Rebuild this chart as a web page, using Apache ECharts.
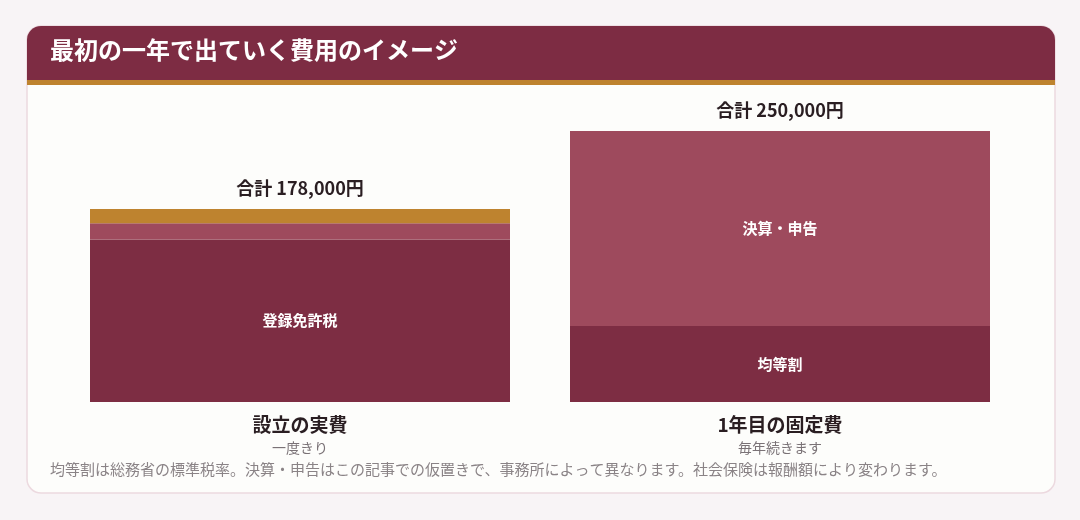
<!DOCTYPE html>
<html><head><meta charset="utf-8">
<script src="https://cdn.jsdelivr.net/npm/echarts@6/dist/echarts.min.js"></script>
<style>html,body{margin:0;padding:0;background:#f8f4f6;}#c{width:1080px;height:520px;}</style>
</head><body><div id="c"></div>
<script>
const categories = ['設立の実費', '1年目の固定費'];
const subLabels = ['一度きり', '毎年続きます'];
const bottomNames = ['登録免許税', '均等割'];
const bottomValues = [150000, 70000];
const middleNames = ['', '決算・申告'];
const middleValues = [15000, 180000];
const topNames = ['', ''];
const topValues = [13000, 0];
const totals = ['合計 178,000円', '合計 250,000円'];
const title = '最初の一年で出ていく費用のイメージ';
const footnote = '均等割は総務省の標準税率。決算・申告はこの記事での仮置きで、事務所によって異なります。社会保険は報酬額により変わります。';

const font = '"Noto Sans CJK JP","Noto Sans",sans-serif';
const segLabel = names => ({show: true, position: 'inside', color: '#fff', fontSize: 15, fontWeight: 'bold', fontFamily: font,
  formatter: p => names[p.dataIndex]});
const chart = echarts.init(document.getElementById('c'));
chart.setOption({
  animation: false,
  graphic: [
    {type: 'rect', shape: {x: 27, y: 26, width: 1028, height: 467, r: 14}, style: {fill: '#fdfdfb', stroke: '#ecd9df', lineWidth: 1.5}, z: -10},
    {type: 'rect', shape: {x: 27, y: 26, width: 1028, height: 54, r: [14, 14, 0, 0]}, style: {fill: '#7d2c43'}, z: -9},
    {type: 'rect', shape: {x: 27, y: 80, width: 1028, height: 5}, style: {fill: '#be832f'}, z: -9},
    {type: 'text', left: 50, top: 38, style: {text: title, fill: '#fff', font: 'bold 24px ' + font}},
    {type: 'text', left: 50, top: 462, style: {text: footnote, fill: '#8a8386', font: '15px ' + font}}
  ],
  grid: {left: 60, right: 60, top: 131, bottom: 118},
  xAxis: {type: 'category', data: categories, axisLine: {show: false}, axisTick: {show: false},
    axisLabel: {margin: 10, formatter: (v, i) => '{a|' + v + '}\n{b|' + subLabels[i] + '}',
      rich: {a: {fontSize: 19, fontWeight: 'bold', color: '#2a1e22', fontFamily: font, lineHeight: 26},
             b: {fontSize: 14, color: '#7a7276', fontFamily: font, lineHeight: 20}}}},
  yAxis: {type: 'value', min: 0, max: 250000, show: false, splitLine: {show: false}},
  series: [
    {type: 'bar', stack: 's', barWidth: 420, data: bottomValues, itemStyle: {color: '#7d2d43'}, label: segLabel(bottomNames)},
    {type: 'bar', stack: 's', data: middleValues, itemStyle: {color: '#9e4a5d'}, label: segLabel(middleNames)},
    {type: 'bar', stack: 's', data: topValues, itemStyle: {color: '#be832f'}, label: segLabel(topNames)},
    {type: 'bar', stack: 's', data: [0, 0], itemStyle: {color: 'transparent'},
      label: {show: true, position: 'top', distance: 12, color: '#2a1e22', fontSize: 18, fontWeight: 'bold', fontFamily: font,
        formatter: p => totals[p.dataIndex]}}
  ]
});
</script></body></html>
